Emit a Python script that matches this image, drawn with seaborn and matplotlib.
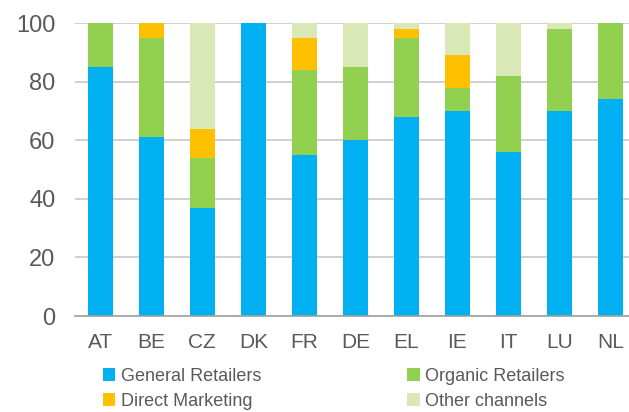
import numpy as np
import pandas as pd
import matplotlib
matplotlib.use("Agg")
import matplotlib.pyplot as plt
from matplotlib.patches import Patch
import seaborn as sns

countries = ["AT", "BE", "CZ", "DK", "FR", "DE", "EL", "IE", "IT", "LU", "NL"]
general = [85, 61, 37, 100, 55, 60, 68, 70, 56, 70, 74]
organic = [15, 34, 17, 0, 29, 25, 27, 8, 26, 28, 26]
direct = [0, 5, 10, 0, 11, 0, 3, 11, 0, 0, 0]
other = [0, 0, 36, 0, 5, 15, 2, 11, 18, 2, 0]

series = ["General Retailers", "Organic Retailers", "Direct Marketing", "Other channels"]
colors = ["#00B0F0", "#92D050", "#FFC000", "#DAE7B7"]

sns.set_style("white")
plt.rcParams["font.family"] = ["Liberation Sans", "DejaVu Sans"]

df = pd.DataFrame({"country": countries, "General Retailers": general,
                   "Organic Retailers": organic, "Direct Marketing": direct,
                   "Other channels": other})
cum = df[series].cumsum(axis=1)
cum["country"] = countries

fig = plt.figure(figsize=(6.29, 4.12), dpi=100)
ax = fig.add_axes([0.119, 0.233, 0.892, 0.711])

# stacked bars: draw cumulative totals from the top segment down
for name, col in reversed(list(zip(series, colors))):
    sns.barplot(data=cum, x="country", y=name, color=col, width=0.5,
                saturation=1, ax=ax, edgecolor="none", legend=False)

ax.set_ylim(0, 100)
ax.set_xlim(-0.5, len(countries) - 0.5)
ax.set_yticks([0, 20, 40, 60, 80, 100])
ax.yaxis.grid(True, color="#C8C8C8", linewidth=1.2)
ax.set_axisbelow(True)
for s in ["left", "right", "top"]:
    ax.spines[s].set_visible(False)
ax.spines["bottom"].set_color("#A0A0A0")
ax.spines["bottom"].set_linewidth(1.2)
ax.set_xlabel("")
ax.set_ylabel("")

ax.tick_params(axis="y", length=0, pad=14, labelsize=17, labelcolor="#595959")
ax.tick_params(axis="x", which="major", length=0, pad=12, labelsize=15, labelcolor="#595959")
ax.set_xticks(np.arange(len(countries)) + 0.5, minor=True)
ax.tick_params(axis="x", which="minor", length=6, width=1.2, color="#A0A0A0", direction="out")

order = ["General Retailers", "Direct Marketing", "Organic Retailers", "Other channels"]
cmap = dict(zip(series, colors))
handles = [Patch(facecolor=cmap[k], edgecolor="none") for k in order]
fig.legend(handles, order, ncol=2, loc="upper left",
           bbox_to_anchor=(0.163, 0.107), frameon=False, fontsize=13,
           handlelength=0.7, handleheight=0.7, handletextpad=0.3,
           columnspacing=8.1, labelspacing=0.45, labelcolor="#595959",
           borderaxespad=0, borderpad=0)

fig.savefig("out.png", dpi=100)
